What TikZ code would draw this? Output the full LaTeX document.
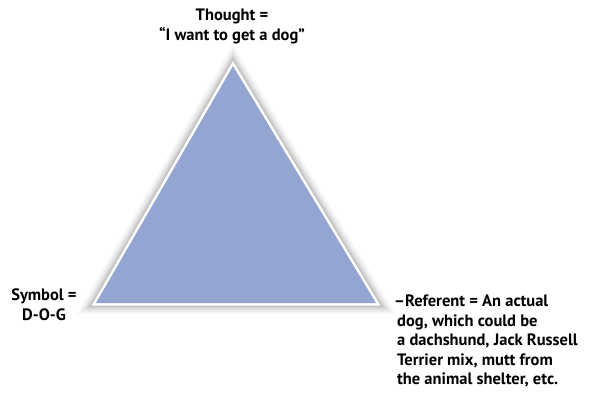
\documentclass[tikz,border=0pt]{standalone}
\usepackage{fontspec}
\setmainfont{PT Sans}
\definecolor{triblue}{HTML}{93A5D0}
\begin{document}
\begin{tikzpicture}[x=1pt,y=-1pt,
  lbl/.style={inner sep=0pt,font=\bfseries\fontsize{16.5}{19.5}\selectfont,text=black}]
\useasboundingbox[fill=white] (0,0) rectangle (599,400);
\coordinate (A) at (233,66);
\coordinate (L) at (96,303);
\coordinate (R) at (376,303);
% soft shadow
\foreach \w/\o in {22/0.03,18/0.04,14/0.05,11/0.06,8/0.07}{
  \draw[line width=\w pt,line join=miter,miter limit=20,black,opacity=\o,shift={(2,3)}] (A) -- (L) -- (R) -- cycle;
}
\draw[fill=triblue,draw=white,line width=5pt,line join=miter,miter limit=20] (A) -- (L) -- (R) -- cycle;
\fill[triblue] (A) -- (L) -- (R) -- cycle;
\node[lbl,align=center,anchor=north] (thought) at (232,9) {Thought =\\“I want to get a dog”};
\node[lbl,align=center,anchor=north] (symbol) at (44,289) {Symbol =\\D-O-G};
\node[lbl,align=left,anchor=north west] (referent) at (394,295) {–Referent = An actual\\\hspace{3pt}dog, which could be\\\hspace{3pt}a dachshund, Jack Russell\\\hspace{3pt}Terrier mix, mutt from\\\hspace{3pt}the animal shelter, etc.};
\end{tikzpicture}
\end{document}
